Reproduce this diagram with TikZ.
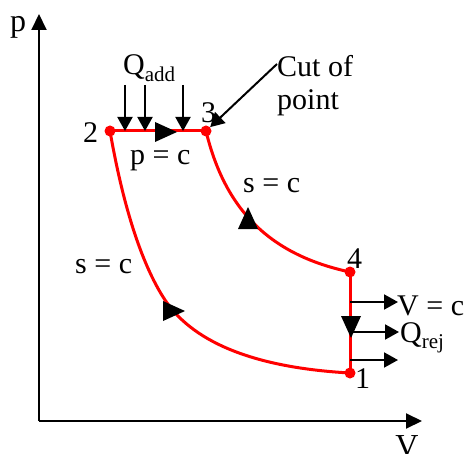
\documentclass[tikz,border=0pt]{standalone}
\usepackage{fontspec}
\setmainfont{Liberation Serif}
\usetikzlibrary{arrows.meta}
\newcommand{\subtxt}[1]{\raisebox{-0.5ex}{\fontsize{21}{21}\selectfont #1}}
\begin{document}
\begin{tikzpicture}[x=1pt,y=-1pt,
  lbl/.style={font=\fontsize{30}{36}\selectfont, inner sep=0pt, anchor=base west},
  axislbl/.style={font=\fontsize{32}{38}\selectfont, inner sep=0pt, anchor=base},
  axis/.style={line width=2pt, -{Triangle[length=16pt,width=15pt]}},
  heat/.style={line width=2pt, -{Triangle[length=14pt,width=15pt]}},
  cycle/.style={red, line width=3pt},
  dot/.style={circle, fill=red, inner sep=0pt, minimum size=11pt},
  tri/.pic={\fill[black] (11,0) -- (-11,10) -- (-11,-10) -- cycle;}
]
\useasboundingbox (0,0) rectangle (465,454);
% axes
\coordinate (O) at (39,421);
\coordinate (ytip) at (39,14);
\coordinate (xtip) at (422,421);
\draw[axis] (O) -- (ytip);
\draw[axis] (O) -- (xtip);
\node[axislbl] (plabel) at (18,32) {p};
\node[axislbl] (vlabel) at (407,456) {V};
% state points
\node[dot] (p2) at (110,131) {};
\node[dot] (p3) at (206,131) {};
\node[dot] (p4) at (350,272) {};
\node[dot] (p1) at (350,373) {};
% cycle
\draw[cycle] (p2.center) -- (p3.center);
\draw[cycle] (p3.center) .. controls (225,210) and (270,255) .. (p4.center);
\draw[cycle] (p4.center) -- (p1.center);
\draw[cycle] (p2.center) .. controls (122,200) and (140,262) .. (165,300)
  .. controls (195,345) and (260,368) .. (p1.center);
% direction triangles
\pic at (166,132) {tri};
\pic at (174,311) {tri};
\pic[rotate=90] at (248,218) {tri};
\pic[rotate=-90] at (351,327) {tri};
% heat added
\coordinate (qa1) at (125,85);
\coordinate (qa2) at (145,85);
\coordinate (qa3) at (183,85);
\coordinate (qb1) at (125,131);
\coordinate (qb2) at (145,131);
\coordinate (qb3) at (183,131);
\draw[heat] (qa1) -- (qb1);
\draw[heat] (qa2) -- (qb2);
\draw[heat] (qa3) -- (qb3);
\node[lbl] (qadd) at (123,75) {Q\subtxt{add}};
% heat rejected
\coordinate (r1) at (350,302);
\coordinate (r2) at (350,332);
\coordinate (r3) at (350,360);
\coordinate (s1) at (398,302);
\coordinate (s2) at (399,332);
\coordinate (s3) at (398,360);
\draw[heat] (r1) -- (s1);
\draw[heat] (r2) -- (s2);
\draw[heat] (r3) -- (s3);
\node[lbl] (vc) at (397,315) {V = c};
\node[lbl] (qrej) at (400,342) {Q\subtxt{rej}};
% labels
\node[lbl] (l2) at (83,143) {2};
\node[lbl] (l3) at (201,123) {3};
\node[lbl] (l4) at (347,268) {4};
\node[lbl] (l1) at (355,388) {1};
\node[lbl] (pc) at (130,165) {p = c};
\node[lbl] (sc1) at (243,193) {s = c};
\node[lbl] (sc2) at (75,273) {s = c};
\node[lbl] (cut1) at (277,77) {Cut of};
\node[lbl] (cut2) at (277,110) {point};
\coordinate (cutstart) at (277,64);
\draw[heat] (cutstart) -- (p3);
\end{tikzpicture}
\end{document}
